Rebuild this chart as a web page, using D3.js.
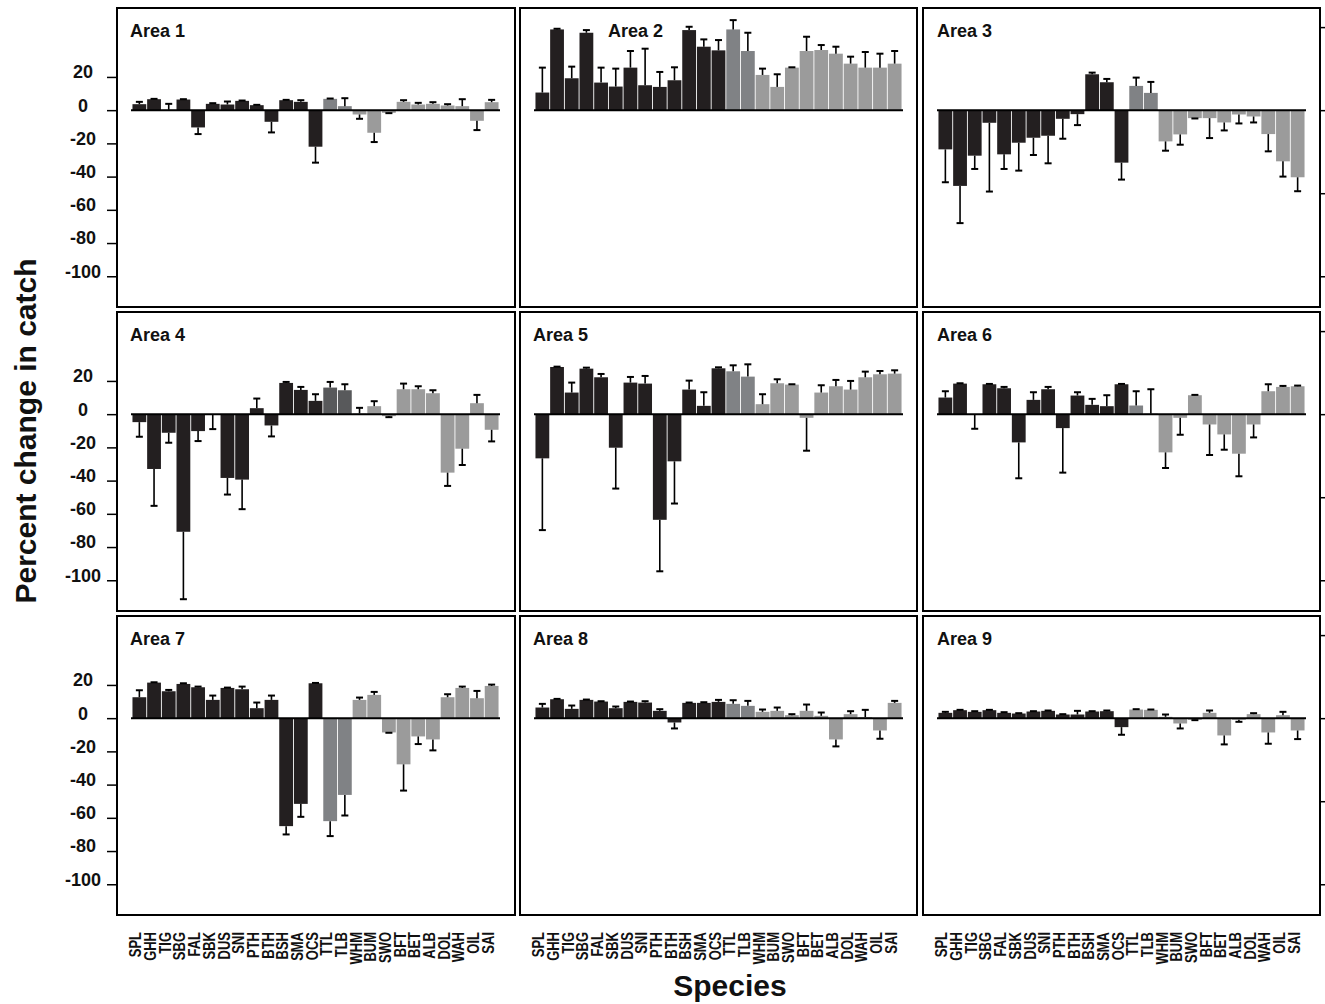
<!DOCTYPE html>
<html>
<head>
<meta charset="utf-8">
<script src="https://cdn.jsdelivr.net/npm/d3@7"></script>
<style>
  body { margin: 0; background: #fff; }
  text { font-family: "Liberation Sans", Arial, sans-serif; font-weight: bold; fill: #111; }
</style>
</head>
<body>
<svg id="chart" width="1325" height="1004"></svg>
<script>
// Species on the x axis, in plotted order
const species = ["SPL", "GHH", "TIG", "SBG", "FAL", "SBK", "DUS", "SNI", "PTH", "BTH",
  "BSH", "SMA", "OCS", "TTL", "TLB", "WHM", "BUM", "SWO", "BFT", "BET",
  "ALB", "DOL", "WAH", "OIL", "SAI"];
// 0 = sharks etc (dark), 1 = turtles (mid grey), 2 = billfish/tunas etc (light grey)
const speciesGroup = [0, 0, 0, 0, 0, 0, 0, 0, 0, 0, 0, 0, 0, 1, 1, 2, 2, 2, 2, 2, 2, 2, 2, 2, 2];

const areaNames = ["Area 1", "Area 2", "Area 3", "Area 4", "Area 5", "Area 6", "Area 7", "Area 8", "Area 9"];

// Mean percent change in catch, and the end of each error bar
const area1 = [3.6, 6.6, 0.2, 6.4, -10.4, 3.8, 3.4, 5.6, 3.0, -7.0, 6.0, 5.0, -22, 6.8, 2.4, -2.6, -13.6, -1.6, 5.0, 3.4, 3.8, 2.8, 2.4, -6.4, 4.8];
const area1Err = [5.0, 6.8, 3.8, 6.6, -14.4, 4.2, 5.2, 5.8, 3.2, -13.4, 6.2, 6.0, -31.6, 7.0, 7.2, -5.2, -19.2, -1.8, 6.0, 4.4, 4.8, 3.6, 6.6, -12, 6.2];

const area2 = [10.6, 48.6, 19.2, 46.6, 16.6, 14.2, 25.6, 15, 14, 18, 48.2, 38.2, 36, 48.6, 35.6, 21.2, 14, 25.6, 35.6, 36.2, 34, 28, 25.6, 25.6, 28];
const area2Err = [25.6, 49, 26.2, 48.2, 25.6, 25, 35.6, 37, 23, 25.8, 50.2, 42.6, 42.2, 54.2, 46.6, 25, 21.6, 25.8, 44.2, 39.2, 38.2, 32.2, 35, 34, 35.6];

const area3 = [-23.6, -45.6, -27.4, -7.6, -26.6, -19.6, -16.6, -15.4, -5.2, -2.4, 21.6, 16.8, -31.6, 14.6, 10.4, -18.8, -14.6, -4.8, -4.8, -7.4, -2.6, -3.8, -14.4, -30.8, -40.4];
const area3Err = [-43.4, -68, -35.4, -49, -35.4, -36.4, -27, -32, -17.2, -9, 22.6, 18.8, -41.8, 19.6, 17, -24.4, -20.8, -5.0, -16.8, -12.2, -8, -7.4, -24.8, -40, -48.8];

const area4 = [-4.8, -33, -11.2, -70.8, -10.2, -0.3, -38.4, -39.4, 3.6, -6.8, 18.8, 14.6, 8, 16, 14.4, 0.4, 4.8, -1.2, 15, 15, 12.6, -35.2, -20.8, 6.6, -9.4];
const area4Err = [-13.6, -55.2, -17.2, -111.4, -16.2, -9, -48.4, -57.2, 9.4, -13.4, 19.4, 16.4, 12, 19.4, 18, 3.8, 7.8, -1.8, 18.4, 16.8, 14.4, -43.2, -30.6, 11.6, -16.4];

const area5 = [-26.6, 28.4, 13, 27.4, 22.2, -20.2, 19, 18.4, -63.6, -28.4, 14.8, 5, 27.6, 25.8, 22.6, 6, 18.6, 17.8, -2.2, 13, 16.8, 14.8, 22.2, 24, 24.4];
const area5Err = [-69.8, 28.6, 19, 28, 24.2, -44.8, 22.4, 23, -94.6, -53.8, 20.2, 13.2, 28.2, 29.4, 30, 12, 21, 18, -22, 17.4, 20.6, 20, 25.6, 26, 26.4];

const area6 = [10, 18.4, -0.3, 18, 15.6, -17, 8.6, 15, -8.4, 11.2, 5.6, 4.8, 18, 5.2, 0.3, -23, -2.2, 11.4, -6.2, -12.2, -23.8, -6.2, 13.8, 16.4, 16.8];
const area6Err = [13.8, 18.6, -8.8, 18.2, 16.4, -38.6, 13.2, 16.4, -35.2, 13.2, 9.2, 11.4, 18.2, 13.8, 15, -32.4, -12.4, 11.6, -24.6, -21.4, -37.4, -14, 18, 17, 17.2];

const area7 = [12.6, 21.4, 16.2, 20.6, 18.6, 11, 18.2, 17.4, 6, 11, -65, -51.6, 21, -62, -46.2, 11, 14, -8.6, -27.8, -11, -12.8, 12.6, 18.2, 12, 19.4];
const area7Err = [16.8, 21.6, 17, 21, 19, 13.6, 18.4, 19, 9.4, 13.6, -70, -59.4, 21.2, -71, -58.6, 12.4, 15.8, -8.8, -43.6, -15.6, -19.4, 14.4, 19, 16.4, 20.2];

const area8 = [6.4, 11.4, 5.6, 11, 10, 6, 9.8, 9.4, 4.4, -2.6, 9.2, 9.2, 9.8, 8.6, 7.4, 3.8, 4.4, 1.8, 4.4, 1.4, -12.8, 2.4, 0.6, -7.4, 9.2];
const area8Err = [8.6, 11.6, 7.6, 11.2, 10.2, 7, 10, 10.2, 5.4, -6.2, 9.4, 9.6, 11, 10.8, 10.4, 5.2, 6.4, 2.4, 8.2, 3.4, -17, 4.2, 5, -12.4, 10.4];

const area9 = [3.2, 4.8, 3.8, 4.8, 3.2, 2.8, 4, 4.4, 2.2, 2.2, 4, 4.2, -5.4, 5.2, 5, 0.8, -3.2, -1, 3.2, -10.4, -1, 2.4, -8.6, 1.8, -7.4];
const area9Err = [3.8, 5.0, 4.2, 5.0, 3.6, 3.0, 4.2, 4.6, 2.4, 4.4, 4.2, 4.6, -10, 5.4, 5.2, 2.2, -6.2, -1.2, 4.6, -15.8, -2.2, 3.0, -15.4, 3.8, -12.6];

const areaValues = [area1, area2, area3, area4, area5, area6, area7, area8, area9];
const areaErrors = [area1Err, area2Err, area3Err, area4Err, area5Err, area6Err, area7Err, area8Err, area9Err];

const yTicks = [20, 0, -20, -40, -60, -80, -100];
const rightTicks = [50, 0, -50, -100];

// layout
const panelW = 398, panelH = 299;
const colX = [117, 520, 923];
const rowY = [8, 312, 616];
const labelDx = [13, 88, 14, 13, 13, 14, 13, 13, 14];
const darkColor = "#231f20";
const lightColor = "#9b9b9b";
const midColors = ["#808285", "#808285", "#808285", "#58595b", "#808285", "#808285", "#808285", "#808285", "#9b9b9b"];

const svg = d3.select("#chart");

const x = d3.scaleBand()
  .domain(species)
  .range([14, panelW - 15])
  .paddingInner(0.06)
  .paddingOuter(0.1);

const y = d3.scaleLinear()
  .domain([-118.5, 61.5])
  .range([panelH, 0]);

areaNames.forEach((name, a) => {
  const col = a % 3, row = Math.floor(a / 3);
  const vals = areaValues[a], errs = areaErrors[a];
  const g = svg.append("g")
    .attr("transform", "translate(" + colX[col] + "," + rowY[row] + ")");

  const color = i => speciesGroup[i] === 0 ? darkColor : (speciesGroup[i] === 1 ? midColors[a] : lightColor);

  // bars
  g.selectAll("rect.bar")
    .data(vals)
    .enter()
    .append("rect")
    .attr("class", "bar")
    .attr("x", (d, i) => x(species[i]))
    .attr("width", x.bandwidth())
    .attr("y", d => Math.min(y(d), y(0)))
    .attr("height", d => Math.abs(y(d) - y(0)))
    .attr("fill", (d, i) => color(i));

  // error bars
  const cx = i => x(species[i]) + x.bandwidth() / 2;
  g.selectAll("line.err")
    .data(vals)
    .enter()
    .append("line")
    .attr("class", "err")
    .attr("x1", (d, i) => cx(i))
    .attr("x2", (d, i) => cx(i))
    .attr("y1", d => y(d))
    .attr("y2", (d, i) => y(errs[i]))
    .attr("stroke", "#000")
    .attr("stroke-width", 1.6);

  g.selectAll("line.cap")
    .data(errs)
    .enter()
    .append("line")
    .attr("class", "cap")
    .attr("x1", (d, i) => cx(i) - 3.5)
    .attr("x2", (d, i) => cx(i) + 3.5)
    .attr("y1", d => y(d))
    .attr("y2", d => y(d))
    .attr("stroke", "#000")
    .attr("stroke-width", 2);

  // zero line
  g.append("line")
    .attr("x1", x.range()[0])
    .attr("x2", x.range()[1])
    .attr("y1", y(0))
    .attr("y2", y(0))
    .attr("stroke", "#000")
    .attr("stroke-width", 2);

  // frame
  g.append("rect")
    .attr("x", 0)
    .attr("y", 0)
    .attr("width", panelW - (col === 0 ? 0 : 1))
    .attr("height", panelH)
    .attr("fill", "none")
    .attr("stroke", "#000")
    .attr("stroke-width", 2);

  g.append("text")
    .attr("x", labelDx[a])
    .attr("y", 29)
    .style("font-size", "18px")
    .text(name);

  // left axis on first column
  if (col === 0) {
    const ax = g.append("g")
      .call(d3.axisLeft(y).tickValues(yTicks).tickSize(10).tickPadding(0).tickFormat(d => String(d)));
    ax.select(".domain").remove();
    ax.selectAll(".tick line").attr("stroke", "#000").attr("stroke-width", 1.5);
    ax.selectAll(".tick text")
      .attr("x", -34)
      .attr("dy", "0.05em")
      .attr("text-anchor", "middle")
      .style("font-size", "18px")
      .style("font-family", "'Liberation Sans', Arial, sans-serif")
      .style("font-weight", "bold")
      .attr("fill", "#111");
  }

  // stub ticks on the right of the last column
  if (col === 2) {
    const ax = g.append("g")
      .attr("transform", "translate(" + (panelW - 1) + ",0)")
      .call(d3.axisRight(y).tickValues(rightTicks).tickSize(6).tickFormat(""));
    ax.select(".domain").remove();
    ax.selectAll(".tick line").attr("stroke", "#000").attr("stroke-width", 1.5);
  }

  // species labels under the bottom row (glyphs are drawn tall and narrow in the original)
  if (row === 2) {
    g.selectAll("text.sp")
      .data(species)
      .enter()
      .append("text")
      .attr("class", "sp")
      .attr("transform", d => "translate(" + (x(d) + x.bandwidth() / 2 - 4) + "," + (panelH + 17) + ") rotate(-90) scale(1,1.3)")
      .attr("text-anchor", "end")
      .attr("dy", "0.36em")
      .style("font-size", "13px")
      .text(d => d);
  }
});

// axis titles
svg.append("text")
  .attr("transform", "translate(25,431) rotate(-90)")
  .attr("text-anchor", "middle")
  .attr("dy", "0.35em")
  .style("font-size", "30px")
  .text("Percent change in catch");

svg.append("text")
  .attr("x", 730)
  .attr("y", 996)
  .attr("text-anchor", "middle")
  .style("font-size", "30px")
  .text("Species");
</script>
</body>
</html>
